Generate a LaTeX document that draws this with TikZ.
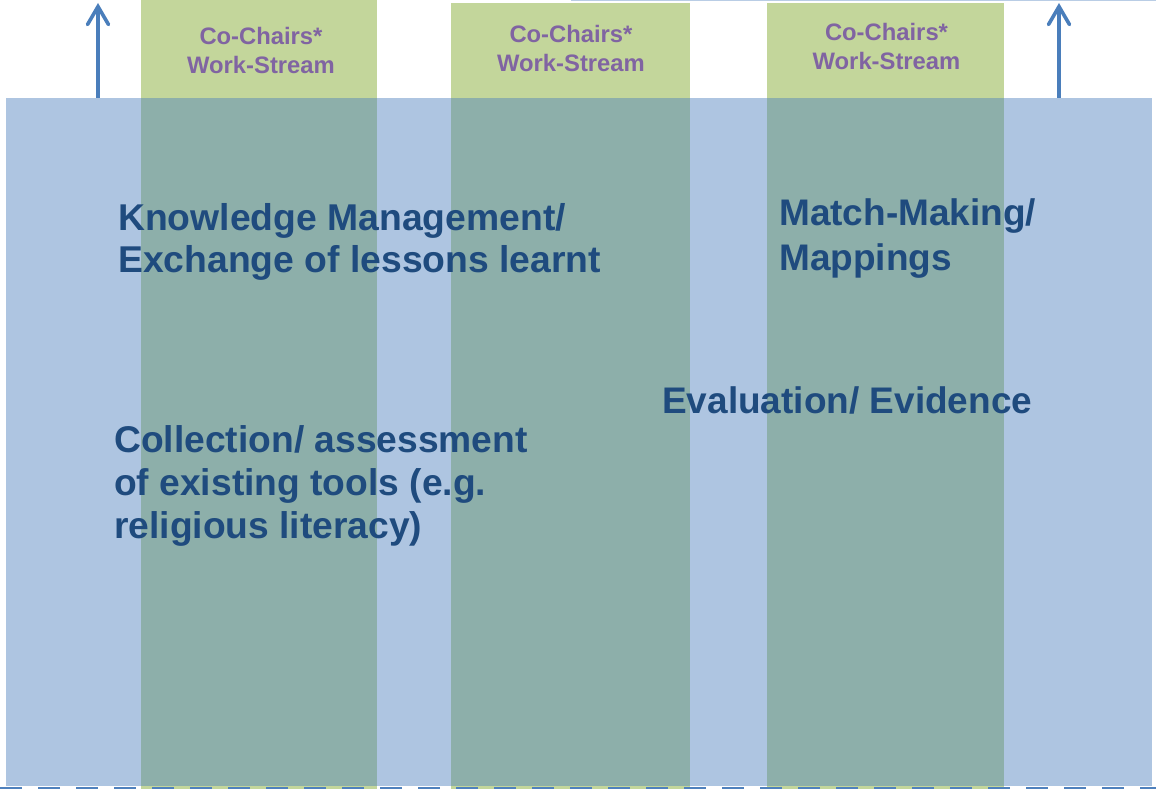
\documentclass[tikz,border=0pt]{standalone}
\usepackage{fontspec}
\setmainfont{Liberation Sans}
\usetikzlibrary{arrows.meta}
\definecolor{wsgreen}{HTML}{C3D69B}
\definecolor{bandblue}{HTML}{4F81BD}
\definecolor{arrowblue}{HTML}{4A7EBB}
\definecolor{txtblue}{HTML}{1F4B7E}
\definecolor{txtpurple}{HTML}{8064A2}
\definecolor{thinline}{HTML}{B9CDE5}
\tikzset{
  wsbox/.style={draw=none,fill=wsgreen,inner sep=0,outer sep=0},
  band/.style={draw=none,fill=bandblue,fill opacity=0.46,inner sep=0,outer sep=0},
  wslabel/.style={anchor=north,align=center,inner sep=0,text=txtpurple,font=\fontsize{23.8}{28.6}\selectfont\bfseries},
  topic/.style={anchor=north west,align=left,inner sep=0,text=txtblue,font=\fontsize{37.3}{42.5}\selectfont\bfseries},
  uparrow/.style={draw=arrowblue,line width=3.6pt,-{Straight Barb[length=18pt,width=21pt,line cap=round]}},
  baseline dash/.style={draw=bandblue,line width=2pt,dash pattern=on 21.5pt off 16.5pt}
}
\begin{document}
\begin{tikzpicture}[x=1pt,y=-1pt]
\useasboundingbox (0,0) rectangle (1156,789);
% green work-stream columns
\path (141,0) coordinate (w1a) (377,789) coordinate (w1b);
\path (451,3) coordinate (w2a) (690,789) coordinate (w2b);
\path (767,3) coordinate (w3a) (1004,789) coordinate (w3b);
\fill[wsgreen] (w1a) rectangle (w1b);
\fill[wsgreen] (w2a) rectangle (w2b);
\fill[wsgreen] (w3a) rectangle (w3b);
\node[wslabel] (l1) at (261,27) {Co-Chairs*\\Work-Stream};
\node[wslabel] (l2) at (571,25) {Co-Chairs*\\Work-Stream};
\node[wslabel] (l3) at (886.5,23.5) {Co-Chairs*\\Work-Stream};
% thin line at top right
\path (571,0.6) coordinate (t1) (1156,0.6) coordinate (t2);
\draw[thinline,line width=1.2pt] (t1) -- (t2);
% arrows
\path (98,98) coordinate (a1s) (98,3) coordinate (a1e);
\path (1059,98) coordinate (a2s) (1059,3) coordinate (a2e);
\draw[uparrow] (a1s) -- (a1e);
\draw[uparrow] (a2s) -- (a2e);
% translucent blue band
\path (6,98) coordinate (b1) (1152,786) coordinate (b2);
\fill[bandblue,fill opacity=0.46] (b1) rectangle (b2);
% dashed base line
\path (0,788) coordinate (d1) (1156,788) coordinate (d2);
\draw[baseline dash] (d1) -- (d2);
% topics
\node[topic] (km) at (118,203) {Knowledge Management/\\Exchange of lessons learnt};
\node[topic,font=\fontsize{37}{45}\selectfont\bfseries] (mm) at (779,198.5) {Match-Making/\\Mappings};
\node[topic,font=\fontsize{37}{43}\selectfont\bfseries] (ev) at (662,386.5) {Evaluation/ Evidence};
\node[topic,font=\fontsize{37.2}{43}\selectfont\bfseries] (co) at (114,425) {Collection/ assessment\\of existing tools (e.g.\\religious literacy)};
\end{tikzpicture}
\end{document}
